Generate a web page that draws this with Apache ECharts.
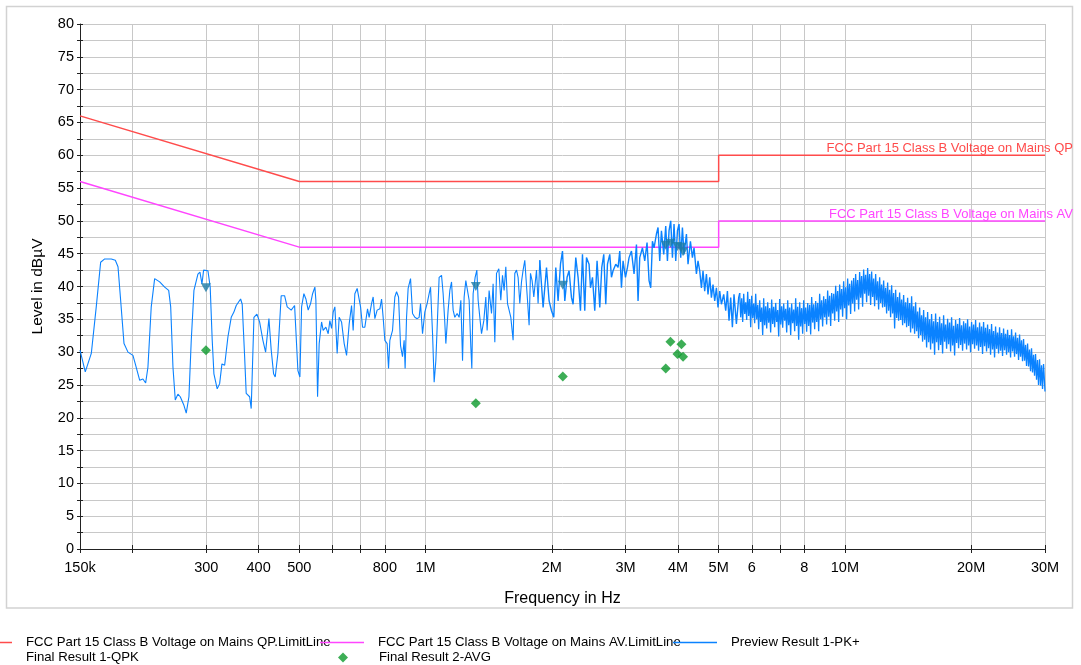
<!DOCTYPE html>
<html><head><meta charset="utf-8">
<script src="https://cdn.jsdelivr.net/npm/echarts@6/dist/echarts.min.js"></script>
<style>html,body{margin:0;padding:0;background:#fff}#c{width:1081px;height:665px}</style>
</head><body><div id="c"></div>
<script>
// ---------- data (frequencies in MHz, levels in dBµV) ----------
const xTickFreqMHz = [0.15,0.2,0.3,0.4,0.5,0.6,0.7,0.8,1,2,3,4,5,6,7,8,10,20,30];
const xLabelFreqMHz = [0.15,0.3,0.4,0.5,0.8,1,2,3,4,5,6,8,10,20,30];
const xLabelText = ['150k','300','400','500','800','1M','2M','3M','4M','5M','6','8','10M','20M','30M'];

const qpLimitFreqMHz = [0.15,0.5,5,5,30];
const qpLimitLevel   = [66,56,56,60,60];
const avLimitFreqMHz = [0.15,0.5,5,5,30];
const avLimitLevel   = [56,46,46,50,50];

// preview sweep, 150 kHz .. 5.6 MHz
const previewLow = [
[0.150,30.3],[0.1544,27.0],[0.1596,29.8],[0.1640,36.9],[0.1680,43.7],[0.1718,44.2],[0.1781,44.2],[0.1821,44.0],[0.1848,43.0],[0.1875,37.9],
[0.1910,31.3],[0.1952,30.0],[0.2006,29.5],[0.2032,28.2],[0.2082,25.7],[0.2119,25.9],[0.2151,25.3],[0.2178,27.7],[0.2218,36.9],[0.2260,41.2],
[0.2323,40.7],[0.2388,39.9],[0.2441,39.4],[0.2468,36.9],[0.2499,27.7],[0.2531,22.7],[0.2568,23.6],[0.2601,23.2],[0.2654,21.9],[0.2688,20.7],
[0.2728,23.2],[0.2763,31.8],[0.2804,39.4],[0.2866,41.9],[0.2898,42.2],[0.2930,40.4],[0.2957,42.5],[0.3028,42.4],[0.3066,39.9],[0.3100,31.8],
[0.3129,26.7],[0.3186,24.4],[0.3229,25.2],[0.3270,28.2],[0.3319,28.0],[0.3379,32.3],[0.3441,35.3],[0.3492,36.1],[0.3537,37.1],[0.3623,38.1],
[0.3655,37.3],[0.3704,29.3],[0.3736,23.7],[0.3807,23.2],[0.3840,21.4],[0.3898,35.3],[0.3962,35.8],[0.4021,34.6],[0.4095,31.8],[0.4156,30.0],
[0.4232,35.1],[0.4286,30.3],[0.4342,26.7],[0.4381,26.2],[0.4446,29.8],[0.4527,38.6],[0.4612,38.6],[0.4679,36.9],[0.4783,36.4],[0.4873,37.1],
[0.4962,27.2],[0.5017,26.2],
[0.5064,36.9],[0.5128,38.9],[0.5185,38.1],[0.5250,36.4],[0.5320,37.4],[0.5379,38.9],[0.5447,39.9],[0.5477,37.9],[0.5528,23.2],[0.5577,31.3],
[0.5651,34.6],[0.5701,33.3],[0.5786,33.8],[0.5860,32.8],[0.5914,34.8],[0.5970,33.6],[0.6023,36.1],[0.6079,36.9],[0.6156,29.8],[0.6224,35.3],
[0.6306,34.6],[0.6398,31.3],[0.6482,29.5],[0.6576,34.3],[0.6662,37.1],[0.6721,33.3],[0.6784,38.9],[0.6870,39.7],[0.6935,39.9],[0.7000,36.9],
[0.7077,33.8],[0.7167,33.8],[0.7273,36.6],[0.7338,35.3],[0.7435,37.4],[0.7501,38.4],[0.7571,35.1],[0.7667,36.4],[0.7782,36.6],[0.7855,38.1],
[0.7924,35.3],[0.7998,31.8],[0.8100,31.3],[0.8162,27.5],[0.8221,31.8],[0.8343,33.3],[0.8449,38.4],[0.8529,39.2],[0.8623,38.4],[0.8718,31.0],
[0.8813,29.3],[0.8892,31.8],[0.8940,27.5],[0.9010,35.3],[0.9089,39.7],[0.9210,41.2],[0.9311,35.9],[0.9430,35.3],[0.9549,35.1],[0.9655,35.3],
[0.9729,37.4],[0.9837,32.8],[0.9961,36.1],[1.0088,37.4],[1.0200,38.9],[1.0279,39.9],[1.0393,32.8],[1.0485,25.4],[1.0583,28.7],[1.0682,35.3],
[1.0776,41.4],[1.0919,41.7],[1.1015,38.9],[1.1100,35.3],[1.1180,31.3],[1.1321,36.4],[1.1428,39.4],[1.1535,40.7],[1.1637,36.4],[1.1745,35.3],
[1.1895,35.9],[1.2026,35.3],[1.2140,37.9],[1.2253,28.7],[1.2361,38.4],[1.2476,40.9],[1.2593,40.7],[1.2705,37.9],[1.2824,30.8],[1.2894,27.5],
[1.2987,38.9],[1.3130,41.4],[1.3254,42.5],[1.3349,37.9],[1.3473,35.3],[1.3600,32.8],[1.3772,34.8],[1.3924,38.4],[1.4024,33.3],[1.4178,39.4],
[1.4366,35.9],[1.4493,40.4],[1.4629,31.5],[1.4766,42.0],[1.4954,42.7],[1.5118,37.9],[1.5260,41.7],[1.5396,39.4],[1.5540,43.0],[1.5685,37.4],
[1.5823,36.4],[1.5972,35.3],[1.6174,31.8],[1.6327,42.0],[1.6479,42.5],[1.6624,41.4],[1.6780,37.4],[1.6937,40.7],[1.7088,42.5],[1.7246,44.0],
[1.7342,44.2],[1.7505,37.9],[1.7660,34.1],[1.7794,42.0],[1.7952,40.9],[1.8121,38.4],[1.8392,42.5],[1.8553,37.4],[1.8727,44.0],
[1.8902,43.9],[1.9069,36.8],[1.9429,42.9],[1.9709,37.8],[1.9970,36.3],[2.0223,35.3],[2.0446,42.9],[2.0705,37.8],[2.0980,43.4],[2.1212,45.4],
[2.1482,37.8],[2.1753,41.4],[2.1994,42.4],[2.2285,38.3],[2.2483,37.3],[2.2818,44.4],[2.3109,41.4],[2.3413,36.3],[2.3672,44.9],[2.3972,36.3],
[2.4199,44.4],[2.4544,43.4],[2.4735,39.8],[2.5008,41.4],[2.5325,36.3],[2.5647,43.9],[2.6030,36.8],[2.6317,42.9],[2.6608,44.9],[2.6902,37.3],
[2.7154,43.4],[2.7499,44.9],[2.7756,41.4],[2.8001,42.4],[2.8418,43.4],[2.8780,42.9],[2.9050,45.4],[2.9321,39.8],[2.9582,43.9],[2.9974,41.4],
[3.0305,42.9],[3.0572,44.4],[3.0976,45.4],[3.1421,41.9],[3.1839,46.4],[3.2118,37.8],[3.2419,44.4],[3.2904,45.9],[3.3321,43.9],[3.3745,46.7],
[3.4119,40.9],[3.4435,39.8],[3.4757,46.9],[3.5067,45.9],[3.5531,48.0],[3.5844,49.0],[3.6181,43.9],[3.6519,48.5],[3.6982,44.9],[3.7390,49.2],
[3.7740,43.9],[3.8075,48.5],[3.8431,50.0],[3.8793,44.4],[3.9134,49.5],[3.9502,43.9],[3.9873,48.5],[4.0226,49.5],[4.0599,44.4],[4.0979,49.0],
[4.1342,44.9],[4.1891,48.0],[4.2259,43.4],[4.2820,46.9],[4.3292,44.4],[4.3676,45.9],[4.4253,41.9],[4.4641,43.9],[4.5061,42.4],[4.5485,39.8],
[4.5884,42.4],[4.6312,39.3],[4.6748,41.9],[4.7160,38.8],[4.7604,41.4],[4.8049,38.3],[4.8472,40.3],[4.8929,37.8],[4.9385,39.8],[4.9821,36.8],
[5.0290,39.3],[5.0758,37.3],[5.1404,38.8],[5.1973,36.3],[5.2462,39.3],[5.2926,34.8],[5.3416,38.3],[5.3916,33.8],[5.4394,38.8],[5.5116,34.3],
[5.5812,38.3]
];

// preview sweep, 5.6 MHz .. 30 MHz (dense band)
const previewHigh = [
[5.612,39.0],[5.643,35.3],[5.674,38.2],[5.705,34.6],[5.737,38.9],[5.769,35.8],[5.800,37.6],[5.832,34.9],[5.864,39.2],[5.896,35.5],
[5.929,38.1],[5.962,33.8],[5.994,38.6],[6.027,35.2],[6.060,37.4],[6.093,34.4],[6.127,38.9],[6.161,35.0],[6.195,37.2],[6.229,33.5],
[6.263,37.9],[6.297,34.6],[6.332,36.8],[6.367,32.6],[6.402,38.2],[6.437,34.1],[6.473,37.0],[6.509,33.6],[6.544,37.6],[6.580,34.5],
[6.616,36.7],[6.652,33.0],[6.689,38.0],[6.726,34.3],[6.763,36.9],[6.800,33.8],[6.838,37.5],[6.876,34.6],[6.914,36.4],[6.952,32.4],
[6.990,38.1],[7.028,34.2],[7.067,37.0],[7.106,33.7],[7.145,37.4],[7.184,34.8],[7.224,36.6],[7.264,33.0],[7.304,37.9],[7.344,34.1],
[7.384,36.8],[7.425,32.6],[7.465,37.4],[7.506,34.4],[7.548,36.5],[7.590,33.2],[7.631,38.2],[7.673,34.0],[7.716,36.9],[7.758,31.9],
[7.801,37.6],[7.844,33.9],[7.887,36.7],[7.930,32.8],[7.974,37.9],[8.018,34.3],[8.062,36.8],[8.106,33.1],[8.151,37.5],[8.196,34.0],
[8.241,37.2],[8.286,32.7],[8.332,38.4],[8.378,34.5],[8.424,37.3],[8.470,33.5],[8.517,37.8],[8.564,34.6],[8.611,37.5],[8.658,33.2],
[8.705,38.9],[8.753,35.0],[8.801,37.9],[8.849,33.9],[8.899,38.5],[8.948,35.3],[8.997,38.1],[9.046,34.2],[9.096,39.4],[9.146,35.4],
[9.197,38.6],[9.248,34.0],[9.298,39.0],[9.349,35.9],[9.401,38.9],[9.453,34.8],[9.505,40.1],[9.557,36.2],[9.610,39.3],[9.663,34.6],
[9.715,40.3],[9.768,36.5],[9.822,39.6],[9.876,35.4],[9.931,40.8],[9.986,36.7],[10.041,39.9],[10.096,35.0],[10.151,41.2],[10.207,37.1],
[10.263,40.4],[10.319,35.8],[10.376,40.9],[10.433,37.4],[10.491,41.3],[10.549,36.2],[10.607,41.9],[10.665,38.0],[10.724,41.0],[10.783,36.5],
[10.842,42.2],[10.902,38.3],[10.961,41.6],[11.021,36.9],[11.083,42.6],[11.144,38.9],[11.205,41.8],[11.267,37.6],[11.329,42.8],[11.391,38.6],
[11.454,41.9],[11.517,37.2],[11.580,42.3],[11.644,38.4],[11.708,41.2],[11.772,37.0],[11.838,41.9],[11.903,37.9],[11.968,40.8],[12.034,36.5],
[12.100,41.4],[12.167,37.5],[12.233,40.3],[12.300,36.8],[12.369,40.9],[12.437,36.9],[12.505,39.8],[12.574,35.9],[12.643,40.6],[12.713,36.3],
[12.783,39.5],[12.853,35.3],[12.924,40.2],[12.995,35.9],[13.067,39.0],[13.139,33.6],[13.211,39.5],[13.284,35.2],[13.357,38.4],[13.430,34.8],
[13.504,39.1],[13.578,34.9],[13.653,38.0],[13.728,34.1],[13.804,38.7],[13.880,34.4],[13.956,37.6],[14.033,33.8],[14.110,38.3],[14.188,34.0],
[14.266,37.5],[14.344,33.0],[14.423,38.5],[14.502,33.6],[14.583,37.0],[14.663,32.8],[14.744,37.6],[14.825,33.2],[14.906,36.2],[14.988,32.1],
[15.071,36.8],[15.154,32.6],[15.237,35.6],[15.321,31.6],[15.406,36.4],[15.491,31.9],[15.576,35.3],[15.662,30.7],[15.748,36.1],[15.835,31.5],
[15.920,35.0],[16.008,30.4],[16.095,35.8],[16.184,31.3],[16.273,34.7],[16.363,29.6],[16.453,35.9],[16.543,31.5],[16.634,34.6],[16.726,30.3],
[16.819,35.4],[16.911,31.1],[17.004,34.4],[17.098,29.8],[17.192,35.6],[17.287,31.6],[17.382,34.2],[17.478,30.5],[17.574,35.1],[17.671,31.2],
[17.768,34.5],[17.866,30.1],[17.963,35.3],[18.062,31.0],[18.163,34.0],[18.263,29.5],[18.363,34.9],[18.464,31.4],[18.566,34.3],[18.668,30.6],
[18.770,35.2],[18.873,31.1],[18.977,34.1],[19.081,30.2],[19.187,34.7],[19.293,31.3],[19.399,34.4],[19.506,30.4],[19.613,35.0],[19.721,31.0],
[19.829,33.9],[19.938,30.0],[20.047,34.6],[20.157,31.2],[20.269,34.2],[20.381,30.5],[20.493,34.9],[20.606,31.0],[20.719,33.8],[20.833,30.2],
[20.946,34.5],[21.061,30.8],[21.177,33.9],[21.293,29.7],[21.411,34.6],[21.529,30.9],[21.648,33.7],[21.767,30.1],[21.887,34.2],[22.007,30.6],
[22.129,33.5],[22.251,29.6],[22.372,34.3],[22.495,30.4],[22.620,33.2],[22.744,29.2],[22.870,33.9],[22.996,30.5],[23.123,33.0],[23.250,29.8],
[23.377,33.8],[23.506,30.2],[23.634,32.9],[23.764,29.4],[23.896,33.6],[24.027,30.3],[24.160,32.8],[24.293,29.6],[24.427,33.4],[24.561,30.0],
[24.696,32.6],[24.832,29.2],[24.968,33.5],[25.105,30.1],[25.244,32.4],[25.383,29.3],[25.523,33.0],[25.663,29.7],[25.805,32.2],[25.947,28.8],
[26.089,32.7],[26.232,29.3],[26.376,31.8],[26.521,28.6],[26.668,32.0],[26.815,28.7],[26.963,31.1],[27.111,27.9],[27.261,31.3],[27.411,27.8],
[27.560,30.4],[27.712,27.1],[27.863,30.6],[28.016,26.9],[28.172,29.6],[28.327,26.4],[28.483,29.7],[28.640,25.8],[28.797,28.8],[28.955,25.0],
[29.115,28.9],[29.275,24.9],[29.436,28.0],[29.598,24.4],[29.760,28.2],[30.0,24.0]
];

const qpkFreqMHz = [0.2995,1.318,2.125,3.739,3.837,3.987,4.076,4.112];
const qpkLevel   = [39.8,40.0,40.2,46.3,46.6,46.1,46.0,45.3];
const avgFreqMHz = [0.2995,1.318,2.125,3.739,3.837,3.987,4.076,4.112];
const avgLevel   = [30.3,22.2,26.3,27.5,31.6,29.7,31.2,29.3];

// ---------- chart ----------
const L = f => Math.log10(f);
const labelMap = {};
xLabelFreqMHz.forEach((f,i) => { labelMap[L(f).toFixed(4)] = xLabelText[i]; });

const QP_NAME = 'FCC Part 15 Class B Voltage on Mains QP.LimitLine';
const AV_NAME = 'FCC Part 15 Class B Voltage on Mains AV.LimitLine';
const PK_NAME = 'Preview Result 1-PK+';
const QPK_NAME = 'Final Result 1-QPK';
const AVG_NAME = 'Final Result 2-AVG';

const C_QP = '#ff4b4b', C_AV = '#ff45ff', C_PK = '#0a82ff', C_QPK = '#1d7ca6', C_AVG = '#0c9a2c';
const FONT = 'Liberation Sans, Arial, sans-serif';
const AXC = '#222';

const lowPts = previewLow.map(p => [L(p[0]), p[1]]);
const highPts = previewHigh.map(p => [L(p[0]), p[1]]);
const idxMid = previewLow.findIndex(p => p[0] >= 1.87);
const pkParts = [
  { data: lowPts.slice(0, idxMid + 1), width: 1.1 },
  { data: lowPts.slice(idxMid).concat([highPts[0]]), width: 1.4 },
  { data: highPts, width: 1.3 }
];

const legendBase = {
  orient: 'horizontal', padding: 0, selectedMode: false,
  textStyle: { fontSize: 13.2, color: '#000', fontFamily: FONT }
};
function lg(extra, pad) {
  const o = Object.assign({}, legendBase, extra);
  o.textStyle = Object.assign({}, legendBase.textStyle, { padding: [0,0,0,pad] });
  return o;
}

const chart = echarts.init(document.getElementById('c'), null, { renderer: 'canvas' });
chart.setOption({
  animation: false,
  backgroundColor: '#fff',
  textStyle: { fontFamily: FONT },
  grid: { left: 80, right: 36, top: 24, bottom: 116, containLabel: false },
  graphic: [{
    type: 'rect', silent: true, z: -10,
    shape: { x: 6.5, y: 6.5, width: 1066, height: 601.5 },
    style: { fill: 'none', stroke: '#d2d2d2', lineWidth: 1.5 }
  }],
  legend: [
    lg({ data: [QP_NAME], left: -32, top: 636, icon: 'rect', itemWidth: 44, itemHeight: 1.5 }, 9),
    lg({ data: [AV_NAME], left: 320, top: 636, icon: 'rect', itemWidth: 44, itemHeight: 1.5 }, 9),
    lg({ data: [PK_NAME], left: 673, top: 636, icon: 'rect', itemWidth: 44, itemHeight: 1.5 }, 9),
    lg({ data: [QPK_NAME], left: -14, top: 651, icon: 'path://M0,0L10,0L5,9Z', itemWidth: 9, itemHeight: 8 }, 26),
    lg({ data: [AVG_NAME], left: 338, top: 651, icon: 'diamond', itemWidth: 10, itemHeight: 10 }, 26)
  ],
  xAxis: [{
    type: 'value', position: 'bottom',
    min: L(0.15), max: L(30),
    name: 'Frequency in Hz', nameLocation: 'middle', nameGap: 42,
    nameTextStyle: { fontSize: 16, color: '#000', fontFamily: FONT },
    axisLine: { show: true, onZero: false, lineStyle: { color: AXC, width: 1 } },
    axisTick: { show: true, length: 4, customValues: xTickFreqMHz.map(L), lineStyle: { color: AXC } },
    axisLabel: { show: true, customValues: xLabelFreqMHz.map(L), margin: 11, fontSize: 14.5, color: '#000',
      fontFamily: FONT, formatter: v => labelMap[v.toFixed(4)] || '' },
    splitLine: { show: true, lineStyle: { color: '#c8c8c8', width: 1 } }
  }, {
    type: 'value', position: 'bottom', gridIndex: 0,
    min: L(0.15), max: L(30),
    axisLine: { show: false, onZero: false },
    axisTick: { show: true, inside: true, length: 4, customValues: xTickFreqMHz.map(L), lineStyle: { color: AXC } },
    axisLabel: { show: false }, splitLine: { show: false }
  }],
  yAxis: [{
    type: 'value', position: 'left', min: 0, max: 80, interval: 2.5,
    name: 'Level in dBµV', nameLocation: 'middle', nameGap: 34, nameRotate: 90,
    nameTextStyle: { fontSize: 15.5, color: '#000', fontFamily: FONT },
    axisLine: { show: true, onZero: false, lineStyle: { color: AXC, width: 1 } },
    axisTick: { show: true, length: 3, lineStyle: { color: AXC } },
    axisLabel: { margin: 6, fontSize: 14.5, color: '#000', fontFamily: FONT,
      formatter: v => (Math.abs(v % 5) < 1e-9 ? String(v) : '') },
    splitLine: { show: true, lineStyle: { color: '#c8c8c8', width: 1 } }
  }, {
    type: 'value', position: 'left', min: 0, max: 80, interval: 2.5,
    axisLine: { show: false, onZero: false },
    axisTick: { show: true, inside: true, length: 3, lineStyle: { color: AXC } },
    axisLabel: { show: false }, splitLine: { show: false }
  }],
  series: [
    {
      name: QP_NAME, type: 'line', showSymbol: false, symbol: 'none',
      data: qpLimitFreqMHz.map((f,i) => [L(f), qpLimitLevel[i]]),
      lineStyle: { color: C_QP, width: 1.5 }, itemStyle: { color: C_QP },
      endLabel: { show: true, formatter: 'FCC Part 15 Class B Voltage on Mains QP', color: C_QP,
        fontSize: 13, fontFamily: FONT, align: 'right', verticalAlign: 'bottom', distance: 28 },
      z: 2
    },
    {
      name: AV_NAME, type: 'line', showSymbol: false, symbol: 'none',
      data: avLimitFreqMHz.map((f,i) => [L(f), avLimitLevel[i]]),
      lineStyle: { color: C_AV, width: 1.5 }, itemStyle: { color: C_AV },
      endLabel: { show: true, formatter: 'FCC Part 15 Class B Voltage on Mains AV', color: C_AV,
        fontSize: 13, fontFamily: FONT, align: 'right', verticalAlign: 'bottom', distance: 28 },
      z: 2
    }
  ].concat(pkParts.map(p => ({
      name: PK_NAME, type: 'line', showSymbol: false, symbol: 'none',
      data: p.data, lineStyle: { color: C_PK, width: p.width }, itemStyle: { color: C_PK }, z: 3
  }))).concat([
    {
      name: QPK_NAME, type: 'scatter', symbol: 'path://M0,0L10,0L5,9Z', symbolSize: [10, 9],
      data: qpkFreqMHz.map((f,i) => [L(f), qpkLevel[i]]),
      itemStyle: { color: C_QPK }, z: 4
    },
    {
      name: AVG_NAME, type: 'scatter', symbol: 'diamond', symbolSize: 10,
      data: avgFreqMHz.map((f,i) => [L(f), avgLevel[i]]),
      itemStyle: { color: C_AVG }, z: 5
    }
  ])
});
</script></body></html>
